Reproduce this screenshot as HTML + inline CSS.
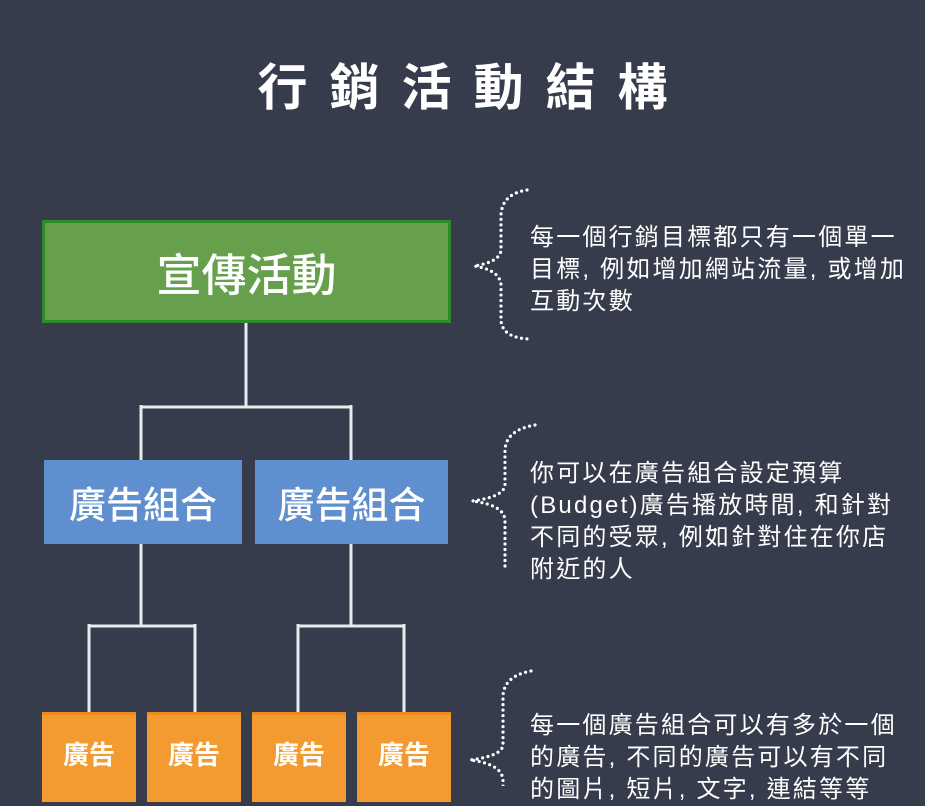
<!DOCTYPE html>
<html><head><meta charset="utf-8"><style>
html,body{margin:0;padding:0;}
body{width:925px;height:786px;background:#363c4b;position:relative;overflow:hidden;font-family:"Liberation Sans","Noto Sans CJK TC",sans-serif;color:#fff;}
.t{position:absolute;left:0;width:925px;text-align:center;top:56px;font-size:50px;font-weight:bold;letter-spacing:22px;text-indent:22px;line-height:64px;}
.b{position:absolute;box-sizing:border-box;display:flex;align-items:center;justify-content:center;color:#fff;}
.g{left:42px;top:220px;width:409px;height:103px;background:#66a04c;border:3px solid #2f8a2b;font-size:45px;font-weight:500;}
.bl{top:460px;height:84px;background:#5f8fcf;font-size:37px;font-weight:500;}
.o{top:712px;height:90px;width:94px;background:#f39b30;border-top:3px solid #f08a1a;font-size:26px;font-weight:bold;padding-bottom:10px;}
.tx{position:absolute;left:530px;font-size:24px;line-height:32px;letter-spacing:2.2px;white-space:nowrap;}
</style></head><body>
<div class="t">行銷活動結構</div>
<svg width="925" height="786" style="position:absolute;left:0;top:0">
<g stroke="#e8eaee" stroke-width="3" fill="none">
<path d="M246 323V407M141 407H351M141 405V460M351 405V460"/>
<path d="M141 544V626M89 626H195M89 624V712M195 624V712"/>
<path d="M351 544V626M298 626H404M298 624V712M404 624V712"/>
</g>
<g stroke="#fff" stroke-width="3.2" fill="none" stroke-linecap="round" stroke-dasharray="0 5.5">
<path d="M527 190 Q502 194 501 215 V250 Q500 262 474 266 Q500 270 501 285 V320 Q502 338 530 339"/>
<path d="M535 425 Q506 430 505 450 V485 Q504 497 472 501 Q504 505 505 520 V570"/>
<path d="M531 671 Q504 676 503 696 V745 Q502 756 470 760 Q502 764 503 780 V790"/>
</g>
</svg>
<div class="b g">宣傳活動</div>
<div class="b bl" style="left:44px;width:198px">廣告組合</div>
<div class="b bl" style="left:255px;width:193px">廣告組合</div>
<div class="b o" style="left:42px">廣告</div>
<div class="b o" style="left:147px">廣告</div>
<div class="b o" style="left:252px">廣告</div>
<div class="b o" style="left:357px">廣告</div>
<div class="tx" style="top:222px">每一個行銷目標都只有一個單一<br>目標, 例如增加網站流量, 或增加<br>互動次數</div>
<div class="tx" style="top:458px">你可以在廣告組合設定預算<br>(Budget)廣告播放時間, 和針對<br>不同的受眾, 例如針對住在你店<br>附近的人</div>
<div class="tx" style="top:710px">每一個廣告組合可以有多於一個<br>的廣告, 不同的廣告可以有不同<br>的圖片, 短片, 文字, 連結等等</div>
</body></html>
